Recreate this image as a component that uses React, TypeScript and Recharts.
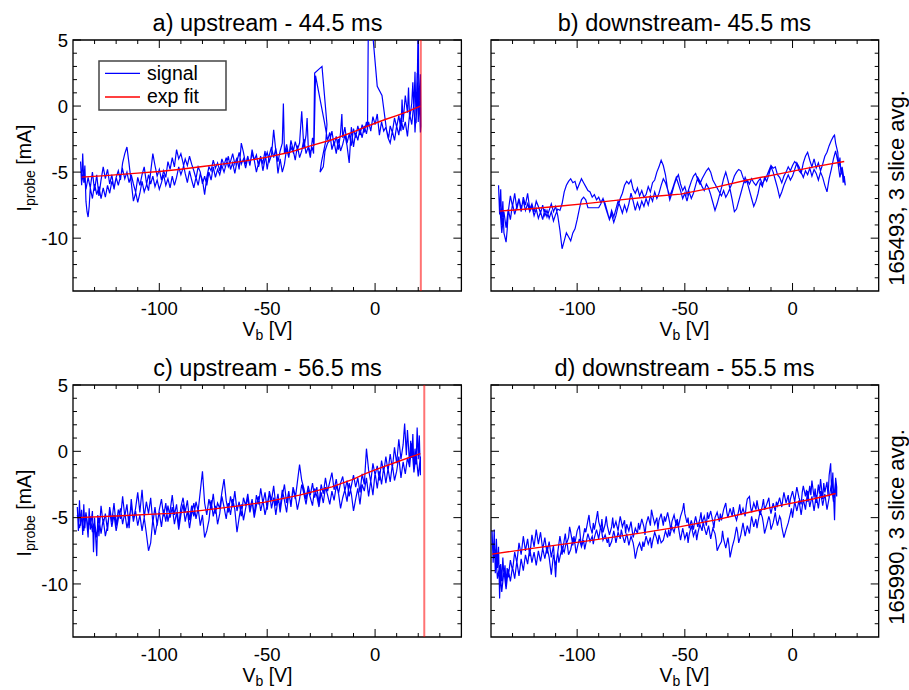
import React from 'react'
import { LineChart, Line, XAxis, YAxis, ReferenceLine, ReferenceArea } from 'recharts'

type Pt = [number, number]

// axis ticks (minor every 10 V / 1 mA, labels on the multiples of 50 / 5)
const xTicks = [-130, -120, -110, -100, -90, -80, -70, -60, -50, -40, -30, -20, -10, 0, 10, 20, 30]
const yTicks = [-13, -12, -11, -10, -9, -8, -7, -6, -5, -4, -3, -2, -1, 0, 1, 2, 3, 4, 5]

const titles = ['a) upstream - 44.5 ms', 'b) downstream- 45.5 ms', 'c) upstream - 56.5 ms', 'd) downstream - 55.5 ms']
const shotLabels = ['165493, 3 slice avg.', '165990, 3 slice avg.']

// floating potential marker (vertical red line)
const cutoffA = 21.2
const cutoffC = 22.8

// exp fits
const fitA: Pt[] = [[-136,-5.38],[-125,-5.27],[-110,-5.08],[-100,-4.95],[-90,-4.78],[-80,-4.58],[-70,-4.38],[-60,-4.15],[-50,-3.87],[-40,-3.52],[-30,-3.02],[-20,-2.55],[-10,-1.95],[-5,-1.62],[0,-1.3],[5,-1.0],[10,-0.72],[15,-0.42],[21,0]]
const fitB: Pt[] = [[-136,-7.95],[-120,-7.75],[-110,-7.6],[-95,-7.37],[-80,-7.1],[-65,-6.85],[-52,-6.67],[-36,-6.16],[-21,-5.6],[-5,-5.1],[10,-4.6],[24,-4.2]]
const fitC: Pt[] = [[-138,-5.0],[-120,-4.88],[-100,-4.72],[-94,-4.68],[-80,-4.45],[-65,-4.15],[-51,-3.83],[-35,-3.3],[-20,-2.68],[-10,-2.1],[-4.5,-1.68],[0,-1.4],[5,-1.1],[11,-0.75],[16,-0.45],[21,-0.17]]
const fitD: Pt[] = [[-139.5,-7.75],[-120,-7.3],[-95,-6.75],[-70,-6.15],[-52,-5.68],[-35,-5.15],[-21,-4.63],[-5.6,-4.08],[10,-3.58],[20,-3.18]]

// a) upstream 44.5 ms, sweep up then down
const sweepAUp: Pt[] = [
  [-136.5,-4.2],[-136,-6.0],[-135.5,-3.6],[-135,-5.8],[-134.5,-4.5],[-134,-7.2],[-133.5,-8.0],[-133,-8.4],[-132.5,-7.6],[-132,-6.2],
  [-131,-5.0],[-130,-6.4],[-129,-5.2],[-128,-6.8],[-127,-5.6],[-126,-4.6],[-125,-5.5],[-124,-4.8],[-123,-5.9],[-122,-5.2],
  [-121,-6.3],[-120,-5.4],[-119,-4.9],[-118,-5.6],[-117,-4.3],[-116,-3.6],[-115,-3.1],[-114,-4.4],[-113,-5.8],[-112,-7.2],
  [-111,-6.6],[-110,-5.4],[-109,-6.0],[-108,-5.2],[-107,-4.6],[-106,-5.8],[-105,-6.4],[-104,-5.0],[-103,-3.6],[-102,-4.5],
  [-101,-5.3],[-100,-4.8],[-99,-5.6],[-98,-4.9],[-97,-5.4],[-96,-4.2],[-95,-4.8],[-94,-3.9],[-93,-4.6],[-92,-3.3],
  [-91,-4.0],[-90,-3.6],[-89,-4.3],[-88,-5.1],[-87,-5.8],[-86,-4.9],[-85,-5.6],[-84,-6.2],[-83,-5.4],[-82,-6.0],
  [-81,-5.1],[-80,-5.6],[-79,-6.7],[-78,-5.4],[-77,-4.6],[-76,-4.9],[-75,-4.1],[-74,-4.7],[-73,-4.3],[-72,-4.9],
  [-71,-4.0],[-70,-4.5],[-69,-3.9],[-68,-4.6],[-67,-4.2],[-66,-3.6],[-65,-4.4],[-64,-3.9],[-63,-4.8],[-62,-2.8],
  [-61,-3.5],[-60,-4.4],[-59,-3.8],[-58,-4.5],[-57,-3.3],[-56,-4.1],[-55,-3.7],[-54,-4.6],[-53,-3.9],[-52,-4.3],
  [-51,-3.4],[-50,-4.8],[-49,-3.7],[-48,-3.1],[-47,-3.9],[-46,-3.2],[-45,-4.2],[-44,-3.4],[-43,-2.8],[-42.5,0.2],
  [-42,-3.6],[-41,-2.9],[-40,-3.8],[-39,-3.1],[-38,-3.5],[-37,-2.7],[-36,-3.3],[-35,-2.8],[-34,-0.4],[-33,-3.2],
  [-32,-2.2],[-31.5,-0.9],[-31,-3.0],[-30,-3.5],[-29,-3.2],[-28.5,-3.6],[-28,2.5],[-24.6,3.0],[-22.3,-1.4],[-22.8,-2.6],
  [-24.8,-4.2],[-25.5,-5.0],[-24,-4.6],[-23.2,-3.4],[-22,-2.8],[-21,-2.6],[-20,-1.9],[-19,-3.0],[-18,-2.3],[-17,-3.3],
  [-16,-2.0],[-15.4,-0.6],[-15,-2.4],[-14,-1.6],[-13,-2.8],[-12,-2.1],[-11,-3.0],[-10,-1.7],[-9,-2.4],[-8,-1.5],
  [-7,-2.2],[-6,-1.4],[-5,-2.0],[-4,-1.2],[-3.5,-1.8],[-3,9],[1,1.5],[3.2,0.8],[5.3,-1.8],[6.3,-2.4],
  [7,-1.5],[8,-2.0],[9,-0.9],[10,-1.6],[11,-0.7],[12,-1.9],[12.5,0.5],[13,-1.2],[14,0.8],[15,-0.5],
  [15.5,1.4],[16,-1.0],[17,0.2],[17.5,1.8],[18,-0.4],[18.5,2.6],[19,-1.3],[19.5,0.9],[20,7],[20.3,-0.5],
  [21,2.4],[21.2,-1.5],
]
const sweepADown: Pt[] = [
  [21,-2.0],[20.5,0.6],[20,-1.2],[19.5,2.5],[19,-0.6],[18.5,-2.0],[18,0.3],[17,-1.4],[16,-0.6],[15,-2.3],
  [14,-1.2],[13,-1.8],[12,-0.9],[11,-2.2],[10,-1.5],[9,-2.6],[8,-1.9],[7,-2.8],[6,-2.4],[5,-1.6],
  [4,-1.9],[3,-1.2],[2,-2.2],[1,-0.6],[0,-1.4],[-1,-0.8],[-2,-1.9],[-3,-1.2],[-4,-2.1],[-5,-1.5],
  [-6,-2.4],[-7,-1.7],[-8,-2.6],[-9,-2.0],[-10,-3.1],[-11,-1.6],[-12,-4.3],[-13,-3.0],[-14,-2.2],[-15,-2.9],
  [-16,-3.4],[-17,-2.5],[-18,-3.6],[-19,-2.7],[-20,-3.3],[-21,-2.0],[-22,-2.6],[-23.5,-1.2],[-27.6,2.3],[-28.3,-3.0],
  [-29,-2.4],[-30,-3.9],[-31,-3.1],[-32,-3.6],[-33,-2.5],[-34,-3.4],[-35,-3.9],[-36,-3.0],[-37,-4.1],[-38,-3.3],
  [-39,-2.6],[-40,-3.9],[-41,-3.2],[-42,-4.4],[-43,-5.0],[-44,-4.0],[-45,-5.1],[-46,-3.4],[-47,-1.8],[-48,-3.7],
  [-49,-4.2],[-50,-3.5],[-51,-4.0],[-52,-4.9],[-53,-3.8],[-54,-4.3],[-55,-5.0],[-56,-4.1],[-57,-3.6],[-58,-4.4],
  [-59,-3.9],[-60,-4.7],[-61,-4.0],[-62,-4.4],[-63,-3.5],[-64,-4.2],[-65,-5.1],[-66,-4.3],[-67,-4.8],[-68,-3.8],
  [-69,-4.4],[-70,-5.0],[-71,-4.5],[-72,-5.2],[-73,-4.8],[-74,-5.4],[-75,-4.6],[-76,-5.6],[-77,-5.0],[-78,-6.0],
  [-79,-5.3],[-80,-5.9],[-81,-5.0],[-82,-4.6],[-83,-5.5],[-84,-4.9],[-85,-4.4],[-86,-3.8],[-87,-4.5],[-88,-4.0],
  [-89,-4.7],[-90,-5.2],[-91,-4.6],[-92,-5.4],[-93,-6.0],[-94,-5.3],[-95,-6.2],[-96,-5.5],[-97,-6.0],[-98,-5.2],
  [-99,-5.8],[-100,-6.3],[-101,-5.6],[-102,-6.1],[-103,-5.3],[-104,-5.9],[-105,-5.2],[-106,-6.0],[-107,-6.5],[-108,-5.7],
  [-109,-6.6],[-110,-7.3],[-111,-6.5],[-112,-5.9],[-113,-5.2],[-114,-5.8],[-115,-5.0],[-116,-5.5],[-117,-4.8],[-118,-5.3],
  [-119,-6.0],[-120,-5.4],[-121,-6.2],[-122,-5.7],[-123,-6.6],[-124,-6.0],[-125,-6.9],[-126,-6.2],[-127,-7.0],[-128,-6.1],
  [-129,-6.7],[-130,-5.9],[-131,-7.0],[-132,-6.2],[-133,-5.4],[-134,-6.3],[-135,-5.0],[-136,-5.8],
]

// b) downstream 45.5 ms
const sweepBUp: Pt[] = [
  [-136.5,-6.0],[-136,-8.2],[-135.5,-6.3],[-135,-9.0],[-134.5,-7.2],[-134,-9.6],[-133,-10.3],[-132.5,-9.4],[-132,-8.0],[-131,-6.8],
  [-130,-7.6],[-129,-6.6],[-128,-7.8],[-127,-7.1],[-126,-8.0],[-125,-6.9],[-124,-7.5],[-123,-6.6],[-122,-7.8],[-121,-7.4],
  [-120,-8.0],[-119,-7.2],[-118,-7.6],[-117,-8.1],[-116,-7.5],[-115,-8.3],[-114,-7.9],[-113,-8.5],[-112,-8.0],[-111,-8.7],
  [-110,-8.2],[-109,-7.8],[-108,-7.9],[-107,-7.4],[-106,-6.5],[-105,-6.0],[-104,-5.7],[-103,-5.5],[-102,-5.8],[-101,-5.7],
  [-100,-6.3],[-99,-5.9],[-98,-5.5],[-97,-5.8],[-96,-6.1],[-95,-6.4],[-94,-6.5],[-93,-6.9],[-92,-6.7],[-91,-7.1],
  [-90,-6.9],[-89,-7.3],[-88,-7.0],[-87,-7.6],[-86,-8.1],[-85,-8.6],[-84,-8.2],[-83,-8.8],[-82,-8.3],[-81,-7.6],
  [-80,-7.0],[-79,-6.6],[-78,-6.0],[-77,-5.7],[-76,-5.9],[-75,-5.6],[-74,-6.3],[-73,-6.6],[-72,-6.2],[-71,-6.8],
  [-70,-6.4],[-69,-6.9],[-68,-6.7],[-67,-6.1],[-66,-6.5],[-65,-5.8],[-64,-5.6],[-63,-5.0],[-62,-4.6],[-61,-4.1],
  [-60,-4.5],[-59,-5.2],[-58,-6.3],[-57,-7.1],[-56,-6.6],[-55,-6.0],[-54,-5.5],[-53,-5.2],[-52,-5.9],[-51,-6.4],
  [-50,-6.1],[-49,-6.7],[-48,-6.2],[-47,-5.7],[-46,-5.3],[-45,-5.1],[-44,-5.6],[-43,-5.9],[-42,-5.5],[-41,-5.2],
  [-40,-4.9],[-39,-4.7],[-38,-5.0],[-37,-5.6],[-36,-5.9],[-35,-6.2],[-34,-6.5],[-33,-6.8],[-32,-6.4],[-31,-6.9],
  [-30,-6.6],[-29,-6.2],[-28,-5.8],[-27,-5.3],[-26,-5.0],[-25,-4.8],[-24,-4.9],[-23,-5.4],[-22,-5.8],[-21,-5.6],
  [-20,-5.9],[-19,-5.5],[-18,-5.8],[-17,-6.0],[-16,-5.7],[-15,-5.5],[-14,-5.9],[-13,-5.6],[-12,-5.3],[-11,-4.9],
  [-10,-4.5],[-9,-4.7],[-8,-4.6],[-7,-5.2],[-6,-5.4],[-5,-5.8],[-4,-5.3],[-3,-5.0],[-2,-4.6],[-1,-4.9],
  [0,-4.5],[1,-4.2],[2,-4.4],[3,-4.9],[4,-5.1],[5,-4.3],[6,-3.8],[7,-3.5],[8,-4.1],[9,-4.6],
  [10,-4.0],[11,-4.7],[12,-4.3],[13,-4.9],[14,-4.4],[15,-3.8],[16,-3.5],[17,-3.0],[18,-2.6],[19,-2.3],
  [19.5,-2.2],[20,-2.8],[21,-3.5],[21.5,-4.6],[22,-3.9],[22.5,-5.2],[23,-4.7],[23.5,-5.8],[24,-5.3],[24.5,-6.0],
]
const sweepBDown: Pt[] = [
  [24,-5.6],[23,-4.6],[22,-5.4],[21,-4.2],[20,-3.4],[19,-4.0],[18,-4.8],[17,-5.5],[16,-6.5],[15,-6.0],
  [14,-5.4],[13,-5.0],[12,-5.6],[11,-5.1],[10,-4.8],[9,-5.3],[8,-4.7],[7,-5.2],[6,-4.9],[5,-5.4],
  [4,-5.0],[3,-4.6],[2,-4.3],[1,-4.8],[0,-5.3],[-1,-5.6],[-2,-5.2],[-3,-5.6],[-4,-6.0],[-5,-6.5],
  [-6,-6.9],[-7,-6.2],[-8,-5.6],[-9,-5.0],[-10,-4.6],[-11,-5.2],[-12,-5.7],[-13,-5.4],[-14,-6.1],[-15,-5.8],
  [-16,-6.6],[-17,-7.2],[-18,-7.6],[-19,-7.0],[-20,-6.4],[-21,-5.8],[-22,-5.4],[-23,-6.0],[-24,-6.6],[-25,-7.2],
  [-26,-7.8],[-27,-8.0],[-28,-7.1],[-29,-6.3],[-30,-5.6],[-31,-5.0],[-32,-5.5],[-33,-6.2],[-34,-6.8],[-35,-7.4],
  [-36,-7.9],[-37,-7.3],[-38,-6.7],[-39,-6.2],[-40,-5.9],[-41,-6.4],[-42,-6.1],[-43,-5.7],[-44,-5.4],[-45,-6.0],
  [-46,-6.6],[-47,-7.0],[-48,-6.5],[-49,-7.2],[-50,-6.6],[-51,-7.0],[-52,-6.4],[-53,-5.9],[-54,-5.4],[-55,-5.9],
  [-56,-6.4],[-57,-6.8],[-58,-6.3],[-59,-5.8],[-60,-5.5],[-61,-6.0],[-62,-6.6],[-63,-7.0],[-64,-6.5],[-65,-7.2],
  [-66,-6.8],[-67,-7.5],[-68,-7.0],[-69,-7.6],[-70,-7.2],[-71,-7.8],[-72,-7.3],[-73,-7.9],[-74,-7.2],[-75,-6.6],
  [-76,-7.4],[-77,-8.0],[-78,-7.5],[-79,-8.1],[-80,-7.6],[-81,-7.2],[-82,-7.8],[-83,-8.4],[-84,-7.9],[-85,-8.6],
  [-86,-8.0],[-87,-7.4],[-88,-7.0],[-89,-7.4],[-90,-7.7],[-95,-7.7],[-96,-7.1],[-97,-6.9],[-98,-7.1],[-99,-7.8],
  [-100,-8.6],[-101,-9.3],[-102,-9.6],[-103,-10.2],[-104,-9.9],[-105,-9.6],[-106,-10.2],[-107,-10.8],[-108,-9.4],[-109,-8.3],
  [-110,-7.6],[-111,-8.0],[-112,-7.4],[-113,-7.9],[-114,-8.4],[-115,-7.8],[-116,-8.6],[-117,-8.0],[-118,-8.5],[-119,-7.8],
  [-120,-8.3],[-121,-7.6],[-122,-8.0],[-123,-7.4],[-124,-7.9],[-125,-7.2],[-126,-7.7],[-127,-7.0],[-128,-7.6],[-129,-8.2],
  [-130,-7.4],[-131,-8.6],[-132,-7.8],[-133,-9.2],[-134,-8.0],[-135,-9.6],[-136,-7.4],
]

// c) upstream 56.5 ms
const sweepCUp: Pt[] = [
  [-138,-4.2],[-137.5,-6.0],[-137,-3.7],[-136.5,-5.6],[-136,-4.4],[-135.5,-6.3],[-135,-4.0],[-134.5,-5.8],[-134,-4.6],[-133,-6.5],
  [-132.5,-4.3],[-132,-5.9],[-131,-4.5],[-130.5,-7.6],[-130,-5.0],[-129,-7.9],[-128.5,-4.8],[-128,-6.4],[-127,-4.1],[-126,-5.5],
  [-125,-4.7],[-124,-6.0],[-123,-4.2],[-122,-5.3],[-121,-3.9],[-120,-5.6],[-119,-4.4],[-118,-5.1],[-117,-3.4],[-116,-4.9],
  [-115,-4.0],[-114,-5.8],[-113,-3.6],[-112,-5.2],[-111,-4.3],[-110,-3.1],[-109,-4.6],[-108,-2.9],[-107,-5.0],[-106,-3.8],
  [-105,-4.7],[-104,-3.5],[-103,-5.4],[-102,-4.2],[-101,-5.6],[-100,-4.4],[-99,-3.6],[-98,-4.9],[-97,-3.9],[-96,-5.3],
  [-95,-4.5],[-94,-3.3],[-93,-4.8],[-92,-4.0],[-91,-5.6],[-90,-4.2],[-89,-3.5],[-88,-4.6],[-87,-3.7],[-86,-5.2],
  [-85,-4.1],[-84,-4.9],[-83,-3.8],[-82,-4.5],[-81,-3.0],[-80,-1.5],[-79,-3.9],[-78,-4.8],[-77,-3.6],[-76,-4.4],
  [-75,-3.2],[-74,-4.7],[-73,-3.9],[-72,-4.3],[-71,-3.1],[-70,-2.1],[-69,-3.7],[-68,-4.6],[-67,-3.4],[-66,-4.2],
  [-65,-3.0],[-64,-4.5],[-63,-3.8],[-62,-4.9],[-61,-3.5],[-60,-4.1],[-59,-3.2],[-58,-4.4],[-57,-3.6],[-56,-4.8],
  [-55,-3.3],[-54,-4.0],[-53,-2.8],[-52,-3.9],[-51,-3.1],[-50,-4.4],[-49,-3.0],[-48,-3.7],[-47,-2.6],[-46,-4.1],
  [-45,-3.2],[-44,-4.6],[-43,-3.4],[-42,-2.5],[-41,-3.9],[-40,-3.0],[-39,-4.2],[-38,-2.8],[-37,-3.6],[-36,-2.3],
  [-35,-1.0],[-34,-2.2],[-33,-2.8],[-32,-3.6],[-31,-2.6],[-30,-3.3],[-29,-2.4],[-28,-3.5],[-27,-2.7],[-26,-3.9],
  [-25,-2.5],[-24,-3.2],[-23,-2.0],[-22,-3.0],[-21,-2.3],[-20,-1.6],[-19,-2.9],[-18,-2.1],[-17,-3.2],[-16,-2.4],
  [-15,-1.9],[-14,-3.0],[-13,-2.2],[-12,-3.4],[-11,-2.6],[-10,-1.8],[-9,-2.7],[-8,-2.0],[-7,-3.1],[-6,-1.7],
  [-5,-2.5],[-4,0.2],[-3,-1.4],[-2,-2.3],[-1,-0.9],[0,-1.8],[1,-1.1],[2,-2.2],[3,-0.7],[4,-1.6],
  [5,-0.4],[6,-1.5],[7,-0.2],[8,-1.3],[9,0.3],[10,-0.9],[11,0.9],[12,-0.6],[13,0.5],[13.7,2.1],
  [14.5,-0.3],[15,1.6],[16,-1.0],[16.5,0.8],[17,-0.5],[17.5,1.3],[18,-1.4],[18.5,0.2],[19,-1.0],[19.5,1.8],
  [20,-0.6],[20.5,1.2],[21,-1.8],
]
const sweepCDown: Pt[] = [
  [21,-0.4],[20,-1.9],[19,-0.2],[18,-1.6],[17,0.6],[16,-1.2],[15,-0.5],[14,-1.7],[13,-0.8],[12,-2.0],
  [11,-0.4],[10,-1.5],[9,-2.2],[8,-1.0],[7,-2.3],[6,-1.3],[5,-2.4],[4,-1.2],[3,-2.5],[2,-1.5],
  [1,-2.8],[0,-1.6],[-1,-3.3],[-2,-2.2],[-3,-3.4],[-4,-2.0],[-5,-3.0],[-6,-2.5],[-7,-4.0],[-8,-2.8],
  [-9,-3.6],[-10,-4.5],[-11,-3.2],[-12,-2.4],[-13,-3.8],[-14,-2.9],[-15,-3.5],[-16,-4.3],[-17,-3.1],[-18,-2.6],
  [-19,-3.7],[-20,-3.0],[-21,-4.0],[-22,-3.3],[-23,-2.7],[-24,-3.9],[-25,-3.1],[-26,-4.2],[-27,-3.4],[-28,-2.8],
  [-29,-4.1],[-30,-3.5],[-31,-2.9],[-32,-4.0],[-33,-3.2],[-34,-2.5],[-35,-3.6],[-36,-4.4],[-37,-3.3],[-38,-2.7],
  [-39,-4.0],[-40,-3.2],[-41,-4.6],[-42,-3.7],[-43,-2.9],[-44,-4.2],[-45,-3.6],[-46,-4.8],[-47,-3.5],[-48,-4.3],
  [-49,-3.1],[-50,-4.0],[-51,-4.8],[-52,-3.7],[-53,-4.5],[-54,-3.4],[-55,-4.1],[-56,-5.0],[-57,-3.8],[-58,-4.6],
  [-59,-3.5],[-60,-4.3],[-61,-5.2],[-62,-4.0],[-63,-5.0],[-64,-6.1],[-65,-4.4],[-66,-3.6],[-67,-4.8],[-68,-3.9],
  [-69,-5.1],[-70,-4.2],[-71,-3.4],[-72,-4.7],[-73,-5.5],[-74,-4.1],[-75,-4.9],[-76,-3.7],[-77,-5.2],[-78,-6.0],
  [-79,-6.5],[-80,-4.8],[-81,-5.6],[-82,-4.3],[-83,-5.1],[-84,-3.9],[-85,-4.7],[-86,-5.8],[-87,-4.5],[-88,-5.3],
  [-89,-4.0],[-90,-4.8],[-91,-5.9],[-92,-4.6],[-93,-5.5],[-94,-4.2],[-95,-5.0],[-96,-4.1],[-97,-5.3],[-98,-4.4],
  [-99,-5.7],[-100,-4.6],[-101,-5.4],[-102,-6.3],[-103,-5.1],[-104,-6.9],[-105,-7.5],[-106,-6.2],[-107,-5.0],[-108,-6.0],
  [-109,-4.8],[-110,-5.6],[-111,-4.5],[-112,-5.3],[-113,-4.1],[-114,-5.0],[-115,-5.8],[-116,-4.6],[-117,-5.5],[-118,-4.3],
  [-119,-5.1],[-120,-6.0],[-121,-4.8],[-122,-5.7],[-123,-4.5],[-124,-5.6],[-125,-6.4],[-126,-5.1],[-127,-6.2],[-128,-5.0],
  [-129,-6.5],[-130,-5.3],[-131,-6.1],[-132,-4.9],[-133,-5.8],[-134,-4.6],[-135,-6.0],[-136,-5.0],[-137,-5.8],[-138,-4.8],
]

// d) downstream 55.5 ms
const sweepDUp: Pt[] = [
  [-139.5,-6.0],[-139,-8.4],[-138.5,-5.9],[-138,-9.2],[-137.5,-6.6],[-137,-8.8],[-136.5,-7.2],[-136,-11.1],[-135.5,-8.5],[-135,-9.8],
  [-134.5,-8.0],[-134,-9.4],[-133.5,-8.6],[-133,-10.0],[-132.5,-8.8],[-132,-9.5],[-131,-8.2],[-130,-9.0],[-129,-7.6],[-128,-8.4],
  [-127,-6.9],[-126,-7.8],[-125,-6.4],[-124,-7.5],[-123,-6.6],[-122,-7.9],[-121,-6.3],[-120,-7.2],[-119,-5.9],[-118,-7.0],
  [-117,-6.1],[-116,-7.4],[-115,-6.5],[-114,-7.7],[-113,-6.8],[-112,-8.0],[-111,-7.1],
  [-110,-9.5],[-109.5,-8.1],[-109,-7.6],[-108,-6.4],[-107.5,-6.9],[-107,-7.8],[-106,-6.7],[-105.5,-6.2],[-105,-7.0],[-104,-6.5],
  [-103.5,-5.7],[-103,-6.1],[-102,-7.1],[-101.5,-6.4],[-101,-6.9],[-100,-6.0],[-99,-5.6],[-98.5,-6.5],[-98,-7.2],[-97,-6.3],
  [-96.5,-5.8],[-96,-6.1],[-95,-5.2],[-94.5,-4.8],[-94,-5.6],[-93,-6.2],[-92.5,-5.4],[-92,-5.9],[-91,-5.0],[-90.5,-4.5],
  [-90,-5.3],[-89,-5.9],[-88.5,-5.1],[-88,-6.1],[-87,-5.5],[-86.5,-4.9],[-86,-5.6],[-85,-6.3],[-84,-5.7],[-83.5,-5.0],
  [-83,-5.8],[-82,-5.3],[-81,-6.0],[-80.5,-5.4],[-80,-4.9],[-79,-5.7],[-78,-5.2],[-77.5,-6.2],[-77,-5.5],[-76,-6.0],
  [-75,-5.3],[-74.5,-5.9],[-74,-6.5],[-73,-5.8],[-72,-6.2],[-71.5,-5.4],[-71,-5.9],[-70,-5.1],[-69,-5.7],[-68.5,-6.3],
  [-68,-5.5],[-67,-4.9],[-66,-5.6],[-65.5,-4.4],[-65,-4.8],[-64,-5.5],[-63,-5.0],[-62.5,-5.9],[-62,-5.2],[-61,-4.7],
  [-60,-5.6],[-59.5,-4.9],[-59,-5.3],[-58,-4.6],[-57,-5.4],[-56.5,-6.0],[-56,-5.3],[-55,-4.8],[-54,-5.6],[-53.5,-5.1],
  [-53,-5.7],[-52,-4.9],[-51,-4.4],[-50.5,-3.9],[-50,-4.7],[-49,-5.4],[-48.5,-5.0],[-48,-5.8],[-47,-5.2],[-46,-5.9],
  [-45.5,-5.3],[-45,-4.9],[-44,-5.7],[-43,-5.1],[-42.5,-4.6],[-42,-5.4],[-41,-4.9],[-40,-5.6],[-39.5,-4.6],[-39,-5.1],
  [-38,-4.5],[-37,-5.3],[-36.5,-5.8],[-36,-5.0],[-35,-4.6],[-34,-5.3],[-33.5,-4.7],[-33,-5.2],[-32,-4.4],[-31,-3.9],
  [-30.5,-4.6],[-30,-5.0],[-29,-4.3],[-28,-4.9],[-27.5,-4.2],[-27,-4.7],[-26,-5.2],[-25,-4.5],[-24.5,-4.0],[-24,-4.8],
  [-23,-4.3],[-22,-4.9],[-21.5,-4.1],[-21,-3.6],[-20,-3.4],[-19.5,-4.2],[-19,-4.6],[-18,-3.9],[-17,-4.4],[-16.5,-3.7],
  [-16,-4.2],[-15,-4.8],[-14,-4.1],[-13.5,-3.6],[-13,-4.4],[-12,-4.0],[-11,-3.5],[-10.5,-4.3],[-10,-4.7],[-9,-3.9],
  [-8,-4.5],[-7.5,-3.8],[-7,-4.1],[-6,-3.5],[-5,-4.2],[-4.5,-3.6],[-4,-3.1],[-3,-3.9],[-2,-3.3],[-1.5,-4.2],
  [-1,-3.6],[0,-3.0],[1,-3.8],[1.5,-3.2],[2,-2.7],[3,-3.5],[4,-4.0],[4.5,-3.1],[5,-2.6],[6,-3.4],
  [6.5,-2.9],[7,-3.8],[8,-2.6],[8.5,-3.3],[9,-2.2],[10,-3.5],[10.5,-2.8],[11,-3.9],[12,-2.5],[12.5,-3.2],
  [13,-2.1],[14,-3.6],[14.5,-2.4],[15,-3.1],[16,-2.3],[16.5,-3.4],[17,-1.8],[17.7,-0.9],[18.2,-3.3],[18.7,-1.6],
  [19.2,-3.9],[19.5,-5.2],[20,-2.0],[20.5,-2.7],
]
const sweepDDown: Pt[] = [
  [20.5,-3.4],[20,-2.2],[19,-3.8],[18,-2.5],[17,-3.5],[16,-4.4],[15,-3.2],[14,-4.1],[13,-3.0],[12,-4.3],
  [11,-3.3],[10,-4.5],[9,-3.4],[8,-4.2],[7,-3.0],[6,-4.4],[5,-3.6],[4,-4.8],[3,-3.7],[2,-4.5],
  [1,-3.8],[0,-5.0],[-0.5,-4.3],[-1,-4.7],[-2,-5.4],[-3,-5.9],[-3.5,-6.2],[-4,-6.5],[-5,-5.7],[-5.5,-5.1],
  [-6,-4.9],[-7,-5.6],[-7.5,-5.2],[-8,-4.6],[-9,-5.4],[-10,-5.9],[-10.5,-5.2],[-11,-4.9],[-12,-5.6],[-13,-6.2],
  [-13.5,-5.5],[-14,-5.0],[-15,-4.5],[-16,-5.3],[-16.5,-5.8],[-17,-5.1],[-18,-5.7],[-19,-4.9],[-19.5,-5.5],[-20,-6.2],
  [-21,-5.6],[-22,-6.4],[-22.5,-5.9],[-23,-5.4],[-24,-6.3],[-25,-6.9],[-25.5,-6.1],[-26,-5.7],[-27,-6.6],[-28,-7.2],
  [-29,-8.0],[-29.5,-7.1],[-30,-6.5],[-31,-7.3],[-32,-6.6],[-32.5,-6.0],[-33,-6.8],[-34,-7.1],[-35,-7.5],[-35.5,-6.7],
  [-36,-6.2],[-37,-5.8],[-38,-6.6],[-38.5,-6.1],[-39,-5.6],[-40,-6.3],[-41,-5.7],[-41.5,-5.3],[-42,-6.0],[-43,-5.5],
  [-44,-6.2],[-44.5,-6.7],[-45,-5.9],[-46,-6.4],[-47,-5.6],[-48,-6.3],[-48.5,-6.9],[-49,-6.1],[-50,-6.6],[-51,-5.8],
  [-52,-6.7],[-52.5,-6.2],[-53,-5.7],[-54,-5.3],[-55,-6.1],[-56,-5.7],[-57,-6.4],[-57.5,-5.9],[-58,-6.5],[-59,-6.0],
  [-60,-6.7],[-61,-6.9],[-62,-6.3],[-62.5,-7.0],[-63,-6.6],[-64,-6.1],[-65,-6.8],[-65.5,-7.3],[-66,-6.5],[-67,-7.0],
  [-68,-6.4],[-69,-7.2],[-69.5,-6.8],[-70,-7.5],[-71,-6.9],[-72,-7.3],[-73,-8.1],[-73.5,-7.4],[-74,-6.9],[-75,-6.4],
  [-76,-7.1],[-76.5,-6.6],[-77,-6.2],[-78,-6.9],[-79,-6.3],[-79.5,-5.9],[-80,-6.6],[-81,-6.1],[-82,-6.9],[-82.5,-6.4],
  [-83,-6.0],[-84,-6.8],[-85,-7.2],[-85.5,-6.5],[-86,-6.9],[-87,-6.3],[-88,-6.7],[-89,-5.6],[-89.5,-6.1],[-90,-6.6],
  [-91,-5.9],[-92,-6.5],[-92.5,-7.0],[-93,-6.4],[-94,-6.8],[-95,-6.2],[-96,-7.0],[-96.5,-7.4],[-97,-6.7],[-98,-7.2],
  [-99,-6.6],[-100,-7.3],[-100.5,-7.7],[-101,-7.0],[-102,-6.6],[-103,-7.4],[-104,-7.8],[-104.5,-7.1],[-105,-6.8],[-106,-7.6],
  [-107,-7.2],[-108,-8.0],[-108.5,-8.4],[-109,-7.6],[-110,-8.6],[-111,-7.8],[-112,-9.3],[-113,-8.0],[-114,-7.2],[-115,-8.1],
  [-116,-7.3],[-117,-8.3],[-118,-7.5],[-119,-8.6],[-120,-7.6],[-121,-8.4],[-122,-7.3],[-123,-8.5],[-124,-7.8],[-125,-9.0],
  [-126,-8.1],[-127,-9.4],[-128,-8.3],[-129,-9.6],[-130,-8.7],[-131,-9.8],[-132,-8.9],[-133,-10.4],[-134,-9.0],[-135,-10.6],
  [-136,-8.6],[-137,-9.6],[-138,-7.4],[-139,-8.2],[-139.5,-6.4],
]

const FONT = '"Liberation Sans", Arial, Helvetica, sans-serif'
const toRows = (pts: Pt[]) => pts.map(([v, i]) => ({ v, i }))

function XTick(props: any) {
  const { x, y, payload, plotH } = props
  const v = payload.value
  const major = v % 50 === 0
  const len = major ? 8 : 4
  return (
    <g>
      <line x1={x} y1={y} x2={x} y2={y - len} stroke="#000" strokeWidth={1} />
      <line x1={x} y1={y - plotH} x2={x} y2={y - plotH + len} stroke="#000" strokeWidth={1} />
      {major && (
        <text x={x} y={y + 24} textAnchor="middle" fontSize={18.5} fontFamily={FONT} fill="#000">{v}</text>
      )}
    </g>
  )
}

function YTick(props: any) {
  const { x, y, payload, plotW, showLabels } = props
  const v = payload.value
  const major = v % 5 === 0
  const len = major ? 8 : 4
  return (
    <g>
      <line x1={x} y1={y} x2={x + len} y2={y} stroke="#000" strokeWidth={1} />
      <line x1={x + plotW} y1={y} x2={x + plotW - len} y2={y} stroke="#000" strokeWidth={1} />
      {showLabels && major && (
        <text x={x - 5} y={y} dy="0.36em" textAnchor="end" fontSize={18.5} fontFamily={FONT} fill="#000">{v}</text>
      )}
    </g>
  )
}

type PanelProps = {
  left: number, top: number, w: number, h: number,
  signal: Pt[], fit: Pt[], cutoff?: number, showLabels: boolean
}

function Panel({ left, top, w, h, signal, fit, cutoff, showLabels }: PanelProps) {
  return (
    <div style={{ position: 'absolute', left: left - 80, top: top - 40 }}>
      <LineChart width={w + 90} height={h + 100} margin={{ top: 40, right: 10, bottom: 0, left: 0 }}>
        <XAxis type="number" dataKey="v" domain={[-140, 40]} ticks={xTicks} interval={0} allowDataOverflow
          axisLine={false} tickLine={false} tickSize={0} tickMargin={0} height={60}
          tick={(p: any) => <XTick {...p} plotH={h} />} />
        <YAxis type="number" dataKey="i" domain={[-14, 5]} ticks={yTicks} interval={0} allowDataOverflow
          axisLine={false} tickLine={false} tickSize={0} tickMargin={0} width={80}
          tick={(p: any) => <YTick {...p} plotW={w} showLabels={showLabels} />} />
        <Line data={toRows(signal)} dataKey="i" type="linear" stroke="#0000ff" strokeWidth={1.2} dot={false} isAnimationActive={false} />
        <Line data={toRows(fit)} dataKey="i" type="linear" stroke="#ff0000" strokeWidth={1.4} dot={false} isAnimationActive={false} />
        {cutoff !== undefined && (
          <ReferenceLine x={cutoff} stroke="#ff0000" strokeOpacity={0.55} strokeWidth={2} />
        )}
        <ReferenceArea x1={-140} x2={40} y1={-14} y2={5} fill="none" fillOpacity={0} stroke="#000" strokeWidth={1.3} />
      </LineChart>
    </div>
  )
}

export default function App() {
  const panels = [
    { left: 73.3, top: 40, w: 388.4, h: 251, signal: [...sweepAUp, ...sweepADown], fit: fitA, cutoff: cutoffA, showLabels: true },
    { left: 490.6, top: 40, w: 387.7, h: 251, signal: [...sweepBUp, ...sweepBDown], fit: fitB, showLabels: false },
    { left: 73.3, top: 385, w: 388.4, h: 252, signal: [...sweepCUp, ...sweepCDown], fit: fitC, cutoff: cutoffC, showLabels: true },
    { left: 490.6, top: 385, w: 387.7, h: 252, signal: [...sweepDUp, ...sweepDDown], fit: fitD, showLabels: false },
  ]
  return (
    <div style={{ position: 'absolute', left: 0, top: 0, width: 909, height: 690, background: '#fff', fontFamily: FONT }}>
      {panels.map((p, k) => <Panel key={k} {...p} />)}
      <svg width={909} height={690} style={{ position: 'absolute', left: 0, top: 0, pointerEvents: 'none' }} fontFamily={FONT}>
        {panels.map((p, k) => (
          <g key={k}>
            <text x={p.left + p.w / 2} y={p.top - 9} textAnchor="middle" fontSize={23.5}>{titles[k]}</text>
            <text x={p.left + p.w / 2} y={p.top + p.h + 45} textAnchor="middle" fontSize={19.5}>
              V<tspan fontSize={14} dy={4}>b</tspan><tspan dy={-4}> [V]</tspan>
            </text>
            {p.showLabels && (
              <text transform={`translate(31, ${p.top + 128}) rotate(-90)`} textAnchor="middle" fontSize={19.5}>
                I<tspan fontSize={14} dy={4}>probe</tspan><tspan dy={-4}> [mA]</tspan>
              </text>
            )}
          </g>
        ))}
        <text transform="translate(903.5, 188) rotate(-90)" textAnchor="middle" fontSize={22}>{shotLabels[0]}</text>
        <text transform="translate(903.5, 527) rotate(-90)" textAnchor="middle" fontSize={22}>{shotLabels[1]}</text>
        <rect x={99} y={61} width={127} height={49} fill="#fff" stroke="#444" strokeWidth={1.5} />
        <line x1={105} y1={73.3} x2={140} y2={73.3} stroke="#0000ff" strokeWidth={1.2} />
        <text x={147} y={79.5} fontSize={19.5}>signal</text>
        <line x1={105} y1={97} x2={140} y2={97} stroke="#ff0000" strokeWidth={1.4} />
        <text x={147} y={102.7} fontSize={19.5}>exp fit</text>
      </svg>
    </div>
  )
}
